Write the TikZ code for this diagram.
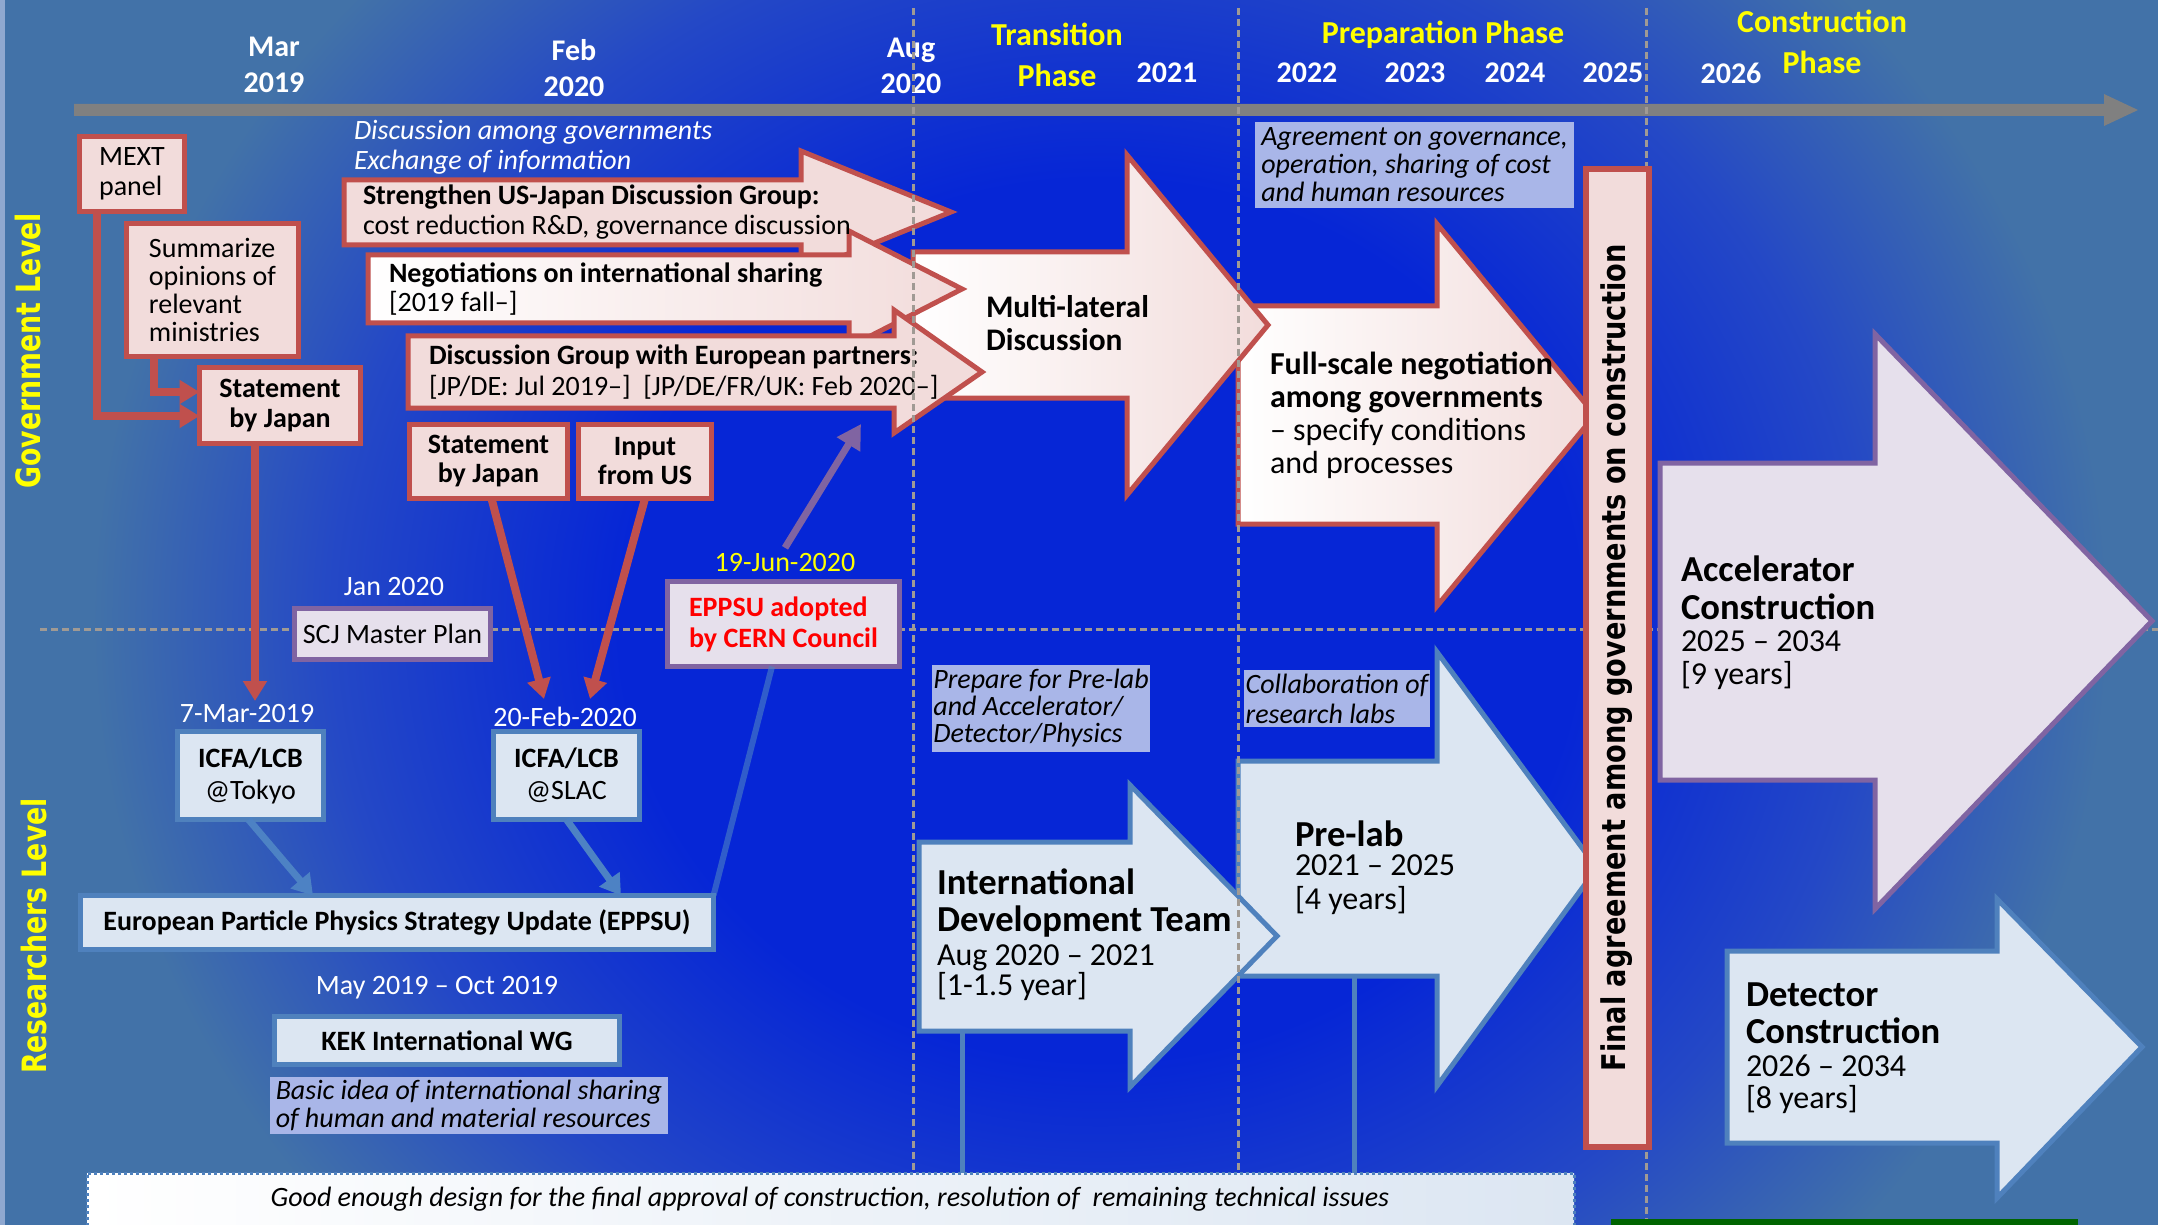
\documentclass[tikz,border=0pt]{standalone}
\usepackage{fontspec}
\usepackage{graphicx}
\setmainfont{Carlito}
\newfontfamily\dvs{DejaVu Sans}
\usetikzlibrary{arrows.meta}
\definecolor{deep}{HTML}{0626D6}
\definecolor{midb}{HTML}{2448C6}
\definecolor{steel}{HTML}{4272A8}
\definecolor{pinkf}{HTML}{F2DCDB}
\definecolor{redl}{HTML}{C0504D}
\definecolor{bluef}{HTML}{DCE6F2}
\definecolor{bluel}{HTML}{4F81BD}
\definecolor{bluec}{HTML}{4D82C4}
\definecolor{lavf}{HTML}{E6E0EC}
\definecolor{purl}{HTML}{8064A2}
\definecolor{notef}{HTML}{A9B6E8}
\definecolor{grayb}{HTML}{808080}
\definecolor{dashc}{HTML}{A09A94}
\definecolor{yel}{HTML}{FFFF00}
\definecolor{eppred}{HTML}{FF0000}
\definecolor{grn}{HTML}{006400}
\definecolor{edge}{HTML}{8FA8D0}
\pgfdeclareradialshading{bgshade}{\pgfpoint{0bp}{0bp}}{color(0bp)=(deep); color(10bp)=(deep); color(16bp)=(midb); color(21bp)=(steel); color(50bp)=(steel)}
% style, x0, x1, x2, bodytop, bodybot, headtop, headbot, tipy
\newcommand\arrowpoly[9]{\draw[#1] (#2,#5) -- (#3,#5) -- (#3,#7) -- (#4,#9) -- (#3,#8) -- (#3,#6) -- (#2,#6) -- cycle;}
\begin{document}
\begin{tikzpicture}[x=0.5pt,y=-0.5pt,
  every node/.style={inner sep=0pt, outer sep=0pt},
  pinkbox/.style={draw=redl, line width=2.6pt, fill=pinkf, align=center, font=\fontsize{14}{15}\selectfont},
  bluebox/.style={draw=bluel, line width=2.6pt, fill=bluef, align=center, font=\fontsize{14}{16}\selectfont},
  lavbox/.style={draw=purl, line width=2.6pt, fill=lavf, align=center, font=\fontsize{14}{15.5}\selectfont},
  notebox/.style={fill=notef, anchor=north west, align=left, font=\fontsize{14}{14}\selectfont\itshape},
  whitelbl/.style={text=white, font=\fontsize{14}{14}\selectfont},
  toplbl/.style={text=white, align=center, font=\fontsize{15}{18}\selectfont\bfseries},
  phaselbl/.style={text=yel, align=center, font=\fontsize{16}{20.5}\selectfont\bfseries},
  sidelbl/.style={text=yel, rotate=90, font=\dvs\bfseries\fontsize{13.4}{14}\selectfont},
  garrow/.style={draw=redl, line width=2.5pt, fill=pinkf},
  garrowg/.style={draw=redl, line width=2.5pt, left color=white, right color=pinkf},
  barrow/.style={draw=bluel, line width=2.5pt, fill=bluef},
  parrow/.style={draw=purl, line width=2.5pt, fill=lavf},
  atext/.style={anchor=west, align=left},
  redconn/.style={draw=redl, line width=4pt, -{Triangle[length=10pt,width=11.5pt]}},
  purconn/.style={draw=purl, line width=3.5pt, -{Triangle[length=12pt,width=13pt]}},
  blueconn/.style={draw=bluec, line width=3.5pt, -{Triangle[length=10pt,width=12pt]}},
  faintline/.style={draw=bluec, opacity=0.6, line width=3pt},
  vline/.style={draw=bluel, line width=2.5pt},
  dashv/.style={draw=dashc, line width=1.5pt, dash pattern=on 3.5pt off 2pt},
]
\useasboundingbox (0,0) rectangle (2158,1225);
\begin{scope}
\clip (0,0) rectangle (2158,1225);
\shade[shading=bgshade] (-100,-480) rectangle (2300,1720);
\fill[edge] (0,0) rectangle (5,1225);
% horizontal dashed divider
\draw[dashv] (40,629) -- (2158,629);
% timeline
\fill[grayb] (74,104) -- (2104,104) -- (2104,94) -- (2138,110) -- (2104,126) -- (2104,116) -- (74,116) -- cycle;
\node[toplbl] (tmar) at (274,65) {Mar\\2019};
\node[toplbl] (tfeb) at (574,68) {Feb\\2020};
\node[toplbl] (taug) at (911,66) {Aug\\2020};
\node[phaselbl] (ptrans) at (1057,55) {Transition\\Phase};
\node[toplbl] (y2021) at (1167,73) {2021};
\node[phaselbl] (pprep) at (1443,35) {Preparation Phase};
\node[toplbl] (y2022) at (1307,73) {2022};
\node[toplbl] (y2023) at (1415,73) {2023};
\node[toplbl] (y2024) at (1515,73) {2024};
\node[toplbl] (y2025) at (1613,73) {2025};
\node[toplbl] (y2026) at (1731,73) {2026};
\node[phaselbl] (pcons) at (1822,42) {Construction\\Phase};
% side labels
\node[sidelbl] (govlvl) at (28,351) {\scalebox{1}[1.25]{Government Level}};
\node[sidelbl] (reslvl) at (34,936) {\scalebox{1}[1.25]{Researchers Level}};
% government arrows
\arrowpoly{garrowg}{1238}{1437}{1595}{306}{524}{224}{606}{415}
\arrowpoly{garrowg}{913}{1127}{1268}{252}{398}{155}{495}{325}
\arrowpoly{garrow}{344}{801}{951}{180}{245}{151}{273}{212}
\arrowpoly{garrowg}{368}{849}{962}{255}{323}{231}{347}{289}
\arrowpoly{garrow}{408}{894}{982}{336}{408}{310}{433}{372}
\node[atext, font=\fontsize{14}{15}\selectfont] (t1) at (363,212) {\textbf{Strengthen US-Japan Discussion Group:}\\cost reduction R\&D, governance discussion};
\node[atext, font=\fontsize{14}{14.5}\selectfont] (t2) at (389,289) {\textbf{Negotiations on international sharing}\\{[2019 fall–]}};
\node[atext, font=\fontsize{14}{15.5}\selectfont] (t3) at (429,372) {\textbf{Discussion Group with European partners:}\\{[JP/DE: Jul 2019–]}\ \ {[JP/DE/FR/UK: Feb 2020–]}};
\node[atext, font=\fontsize{15.7}{16.5}\selectfont\bfseries] (tml) at (986,323) {Multi-lateral\\Discussion};
\node[atext, font=\fontsize{16}{16.5}\selectfont] (tfs) at (1270,415) {\textbf{Full-scale negotiation}\\\textbf{among governments}\\– specify conditions\\and processes};
\node[atext, text=white, font=\fontsize{14}{15}\selectfont\itshape] (tdisc) at (354,147) {Discussion among governments\\Exchange of information};
% researcher arrows
\arrowpoly{barrow}{1238}{1437}{1597}{761}{976}{652}{1086}{868}
\arrowpoly{barrow}{919}{1130}{1277}{842}{1031}{785}{1087}{936}
\node[atext, font=\fontsize{18.3}{18.5}\selectfont\bfseries] (tidt) at (937,903) {International\\Development Team};
\node[atext, font=\fontsize{16}{15}\selectfont] (tidt2) at (937,973) {Aug 2020 – 2021\\{[1-1.5 year]}};
\node[atext, font=\fontsize{18.3}{18.5}\selectfont\bfseries] (tpl) at (1295,834) {Pre-lab};
\node[atext, font=\fontsize{16}{17}\selectfont] (tpl2) at (1295,885) {2021 – 2025\\{[4 years]}};
\coordinate (idtb) at (962,1031);
\coordinate (plb) at (1354,976);
% vertical dashed phase lines
\draw[dashv] (913,8) -- (913,1225);
\draw[dashv] (1238,8) -- (1238,1225);
\draw[dashv] (1646,8) -- (1646,1225);
% final agreement bar
\node[pinkbox, line width=3pt, minimum width=31.5pt, minimum height=488.5pt] (finalbar) at (1617,658) {};
\node[rotate=90, font=\dvs\bfseries\fontsize{13.6}{14}\selectfont] (finaltxt) at (1617,658) {\scalebox{1}[1.2]{Final agreement among governments on construction}};
% construction arrows
\arrowpoly{parrow}{1660}{1875}{2152}{463}{780}{334}{909}{621}
\arrowpoly{barrow}{1727}{1997}{2142}{951}{1143}{899}{1198}{1047}
\node[atext, font=\fontsize{18.3}{19}\selectfont\bfseries] (tac) at (1681,588) {Accelerator\\Construction};
\node[atext, font=\fontsize{16}{16.5}\selectfont] (tac2) at (1681,660) {2025 – 2034\\{[9 years]}};
\node[atext, font=\fontsize{18.3}{18.5}\selectfont\bfseries] (tdc) at (1746,1013) {Detector\\Construction};
\node[atext, font=\fontsize{16}{16}\selectfont] (tdc2) at (1746,1084) {2026 – 2034\\{[8 years]}};
% left boxes
\node[pinkbox, align=left, minimum width=52.5pt, minimum height=37.5pt] (mext) at (132,174) {MEXT\\panel};
\node[pinkbox, align=left, font=\fontsize{14}{14}\selectfont, minimum width=86pt, minimum height=66.5pt] (summ) at (212.5,290) {Summarize\\opinions of\\relevant\\ministries};
\node[pinkbox, font=\fontsize{14}{15}\selectfont\bfseries, minimum width=80.5pt, minimum height=38pt] (sj1) at (280,405.5) {Statement\\by Japan};
\node[pinkbox, font=\fontsize{14}{14.5}\selectfont\bfseries, minimum width=79pt, minimum height=37pt] (sj2) at (488.5,461.5) {Statement\\by Japan};
\node[pinkbox, font=\fontsize{14}{14.5}\selectfont\bfseries, minimum width=66.5pt, minimum height=37pt] (inus) at (645,461.5) {Input\\from US};
\draw[redconn] ([xshift=8.75pt]mext.south west) |- ([yshift=-5.25pt]sj1.west);
\draw[redconn] ([xshift=13.5pt]summ.south west) |- ([yshift=6.75pt]sj1.west);
% researcher-level boxes
\node[whitelbl] (jan) at (394,587) {Jan 2020};
\node[lavbox, minimum width=98pt, minimum height=25.5pt] (scj) at (392.5,634) {SCJ Master Plan};
\node[whitelbl, text=yel] (jun) at (785,563) {19-Jun-2020};
\node[lavbox, align=left, text=eppred, font=\fontsize{14}{15.5}\selectfont\bfseries, minimum width=116pt, minimum height=42.5pt] (eppsuad) at (783.5,624) {EPPSU adopted\\by CERN Council};
\node[whitelbl] (mar7) at (247,714) {7-Mar-2019};
\node[whitelbl] (feb20) at (565,717) {20-Feb-2020};
\node[bluebox, minimum width=73pt, minimum height=44pt] (icfa1) at (250.5,775.5) {\textbf{ICFA/LCB}\\@Tokyo};
\node[bluebox, minimum width=73pt, minimum height=44pt] (icfa2) at (566.5,775.5) {\textbf{ICFA/LCB}\\@SLAC};
\node[bluebox, font=\fontsize{14}{16}\selectfont\bfseries, minimum width=316.5pt, minimum height=27pt] (eppsu) at (397,922.5) {European Particle Physics Strategy Update (EPPSU)};
\node[whitelbl] (may) at (437,988) {May 2019 – Oct 2019};
\node[bluebox, font=\fontsize{14}{16}\selectfont\bfseries, minimum width=172.5pt, minimum height=24pt] (kek) at (447,1040.5) {KEK International WG};
% connectors
\coordinate (c1) at (255,701);
\coordinate (c2) at (544,699);
\coordinate (c3) at (590,699);
\coordinate (c4) at (861,424);
\draw[redconn] ([xshift=-12.5pt]sj1.south) -- (c1);
\draw[redconn] ([xshift=1.5pt]sj2.south) -- (c2);
\draw[redconn] (inus.south) -- (c3);
\draw[purconn] ([yshift=3pt]jun.north) -- (c4);
\draw[faintline] ([xshift=-5.75pt]eppsuad.south) -- (eppsu.north east);
\draw[blueconn] ([xshift=-1pt]icfa1.south) -- ([xshift=-42pt]eppsu.north);
\draw[blueconn] (icfa2.south) -- ([xshift=112pt]eppsu.north);
% notes
\node[notebox, minimum width=159.5pt, minimum height=43pt] (agree) at (1255,122) {Agreement on governance,\\operation, sharing of cost\\and human resources};
\node[notebox, minimum width=199pt, minimum height=28.5pt] (basic) at (270,1077) {Basic idea of international sharing\\of human and material resources};
\node[notebox, font=\fontsize{14}{13.5}\selectfont\itshape, minimum width=109pt, minimum height=43.5pt] (prep) at (932,665) {Prepare for Pre-lab\\and Accelerator/\\Detector/Physics};
\node[notebox, font=\fontsize{14}{15}\selectfont\itshape, minimum width=93pt, minimum height=28.5pt] (collab) at (1244,670) {Collaboration of\\research labs};
% bottom box
\node[draw=bluel, line width=1.5pt, dash pattern=on 1.5pt off 1.5pt, left color=white, right color=bluef, minimum width=743.5pt, minimum height=33pt] (botbox) at (830.5,1206) {};
\node[font=\fontsize{14}{14}\selectfont\itshape] (bottxt) at (830,1199) {Good enough design for the final approval of construction, resolution of\ \ remaining technical issues};
\draw[vline] (idtb) -- (idtb |- botbox.north);
\draw[vline] (plb) -- (plb |- botbox.north);
\fill[grn] (1611,1219) rectangle (2078,1230);
\end{scope}
\end{tikzpicture}
\end{document}
